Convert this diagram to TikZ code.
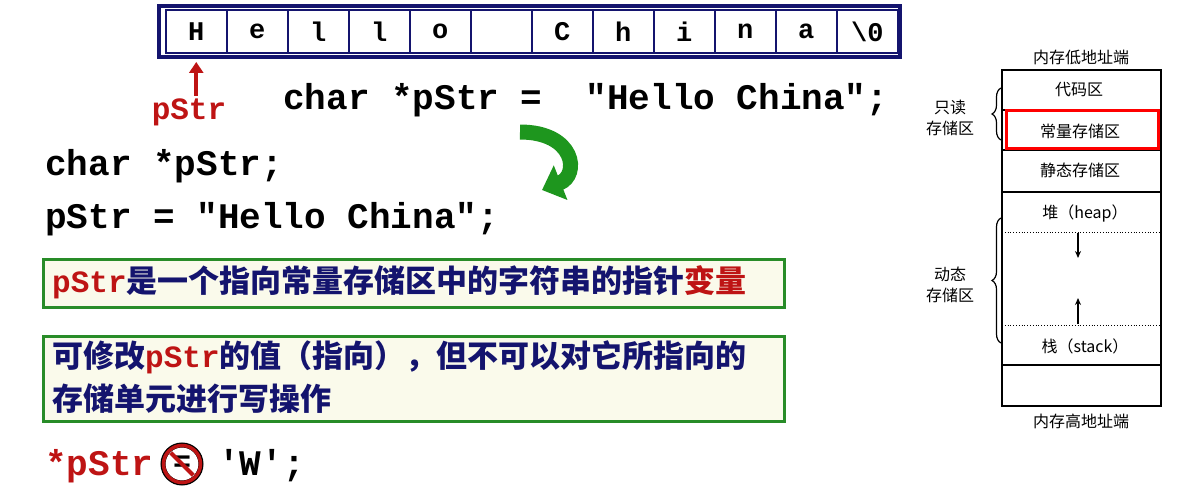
\documentclass[tikz,border=0pt]{standalone}
\usepackage{fontspec}
\setmonofont{Liberation Mono}
\newfontfamily\cjk{Noto Sans CJK SC}
\newfontfamily\cjkl{Noto Sans CJK SC}
\usetikzlibrary{arrows.meta,decorations.pathreplacing,calc}
\definecolor{navy}{RGB}{20,20,110}
\definecolor{dred}{RGB}{190,20,20}
\definecolor{gbox}{RGB}{40,140,40}
\definecolor{bfill}{RGB}{250,250,235}
\definecolor{arrg}{RGB}{30,150,30}
\tikzset{
 code/.style={font=\fontsize{36}{40}\selectfont\ttfamily\bfseries, inner sep=0},
 cell/.style={draw=navy, line width=1.5pt, minimum width=61pt, minimum height=43pt, inner sep=0, font=\fontsize{27}{30}\selectfont\ttfamily\bfseries},
 gboxs/.style={draw=gbox, line width=3pt, fill=bfill},
 ctext/.style={font=\fontsize{31}{43}\selectfont\cjk\bfseries, text=navy, inner sep=0, align=left},
 mem/.style={font=\fontsize{16}{21}\selectfont\cjkl, inner sep=0, align=center},
 memline/.style={line width=1.2pt}
}
\begin{document}
\begin{tikzpicture}[x=1pt,y=-1pt]
\useasboundingbox (0,0) rectangle (1196,500);
% string array
\draw[navy, line width=4pt] (159,6) rectangle (900,57);
\foreach \c [count=\i] in {H,e,l,l,o,{},C,h,i,n,a,{\textbackslash0}}{
  \node[cell, anchor=west] (c\i) at ({165+61*(\i-1)},31.5) {\c};
}
\node[code, text=dred, font=\fontsize{31}{34}\selectfont\ttfamily\bfseries] (p) at (189,112) {pStr};
\coordinate (pa) at (c1.south |- 0,96);
\draw[dred, line width=4pt, -{Triangle[length=11pt,width=14pt]}] (pa) -- (pa |- 0,62);
\node[code, anchor=west] (decl) at (283,100) {char *pStr =\ \ "Hello China";};
\node[code, anchor=west] (l1) at (45,166) {char *pStr;};
\node[code, anchor=west] (l2) at (45,219) {pStr = "Hello China";};
% green curved arrow
\draw[arrg, line width=15pt, -{Triangle[length=20pt,width=36pt]}] (520,132) .. controls (575,132) and (580,175) .. (542,190);
% boxes
\node[gboxs, minimum width=741pt, minimum height=48pt, anchor=north west] (b1) at (42,258) {};
\node[ctext, anchor=west] (t1) at (52,282) {\textcolor{dred}{\ttfamily\bfseries pStr}是一个指向常量存储区中的字符串的指针\textcolor{dred}{变量}};
\node[gboxs, minimum width=741pt, minimum height=85pt, anchor=north west] (b2) at (42,335) {};
\node[ctext, anchor=west] (t2) at (52,377) {可修改\textcolor{dred}{\ttfamily\bfseries pStr}的值（指向），但不可以对它所指向的\\存储单元进行写操作};
% bottom statement
\node[code, anchor=west, text=dred] (s1) at (45,466) {*pStr};
\node[code, anchor=west] (s2) at (218,466) {'W';};
\node[circle, draw=black, line width=5pt, minimum size=38pt, inner sep=0] (no) at (182,464) {};
\node[circle, draw=dred, line width=3.5pt, minimum size=37pt, inner sep=0] at (182,464) {};
\node[font=\fontsize{30}{30}\selectfont\ttfamily\bfseries] at (182,464) {=};
\draw[dred, line width=4pt] ($(no.north west)+(4,4)$) -- ($(no.south east)+(-4,-4)$);
% memory diagram
\node[mem] (lo) at (1081,57) {内存低地址端};
\node[mem] (hi) at (1081,421) {内存高地址端};
\draw[memline] (1002,70) rectangle (1161,406);
\foreach \y in {110,150,192,365}{\draw[memline] (1002,\y) -- (1161,\y);}
\draw[dotted, thick] (1002,232) -- (1161,232);
\draw[dotted, thick] (1002,325) -- (1161,325);
\draw[red, line width=3pt] (1006,111) rectangle (1158,148);
\node[mem] (m1) at (1079,90) {代码区};
\node[mem] (m2) at (1080,131) {常量存储区};
\node[mem] (m3) at (1080,170) {静态存储区};
\node[mem] (m4) at (1085,213) {堆（heap）};
\node[mem] (m5) at (1085,346) {栈（stack）};
\coordinate (d1) at (1078,233);
\coordinate (d2) at (1078,258);
\coordinate (u1) at (1078,324);
\coordinate (u2) at (1078,298);
\draw[memline, -{Stealth[length=7pt,width=6pt]}] (d1) -- (d2);
\draw[memline, -{Stealth[length=7pt,width=6pt]}] (u1) -- (u2);
\draw[memline, decorate, decoration={brace, amplitude=9pt}] (1001,140) -- (1001,88);
\draw[memline, decorate, decoration={brace, amplitude=9pt}] (1001,343) -- (1001,218);
\node[mem] (ro) at (950,118) {只读\\存储区};
\node[mem] (dy) at (950,285) {动态\\存储区};
\end{tikzpicture}
\end{document}
